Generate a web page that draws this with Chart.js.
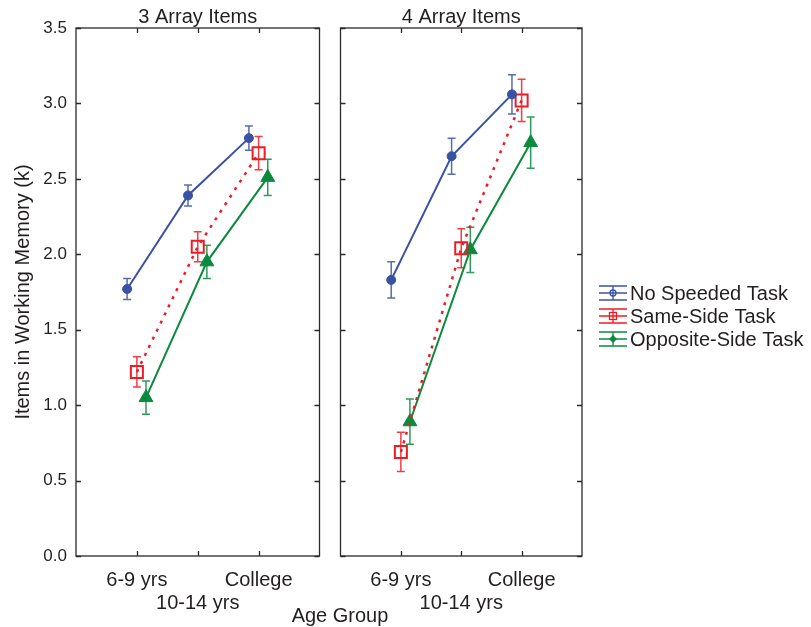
<!DOCTYPE html>
<html>
<head>
<meta charset="utf-8">
<script src="https://cdn.jsdelivr.net/npm/chart.js"></script>
<style>
  body { margin: 0; background: #fff; }
  #wrap { position: relative; width: 811px; height: 627px; font-family: 'Liberation Sans', Arial, sans-serif; }
  canvas { position: absolute; top: 0; }
  #left { left: 0; }
  #right { left: 330px; }
  #xtitle { position: absolute; left: 240px; width: 200px; top: 603px; text-align: center;
            font-size: 20px; line-height: 24px; color: #231f20; }
</style>
</head>
<body>
<div id="wrap">
  <canvas id="left" width="330" height="627"></canvas>
  <canvas id="right" width="481" height="627"></canvas>
  <div id="xtitle">Age Group</div>
</div>
<script>
const ageGroups = ['6-9 yrs', '10-14 yrs', 'College'];
const seriesNames = ['No Speeded Task', 'Same-Side Task', 'Opposite-Side Task'];
const yTicks = [0, 0.5, 1, 1.5, 2, 2.5, 3, 3.5];

// 3 array items: means and error bar half-widths
const noSpeed3 = [1.77, 2.39, 2.77];
const noSpeed3Err = [0.07, 0.07, 0.08];
const sameSide3 = [1.22, 2.05, 2.67];
const sameSide3Err = [0.10, 0.10, 0.11];
const oppSide3 = [1.05, 1.95, 2.51];
const oppSide3Err = [0.11, 0.11, 0.12];

// 4 array items
const noSpeed4 = [1.83, 2.65, 3.06];
const noSpeed4Err = [0.12, 0.12, 0.13];
const sameSide4 = [0.69, 2.04, 3.02];
const sameSide4Err = [0.13, 0.13, 0.14];
const oppSide4 = [0.89, 2.03, 2.74];
const oppSide4Err = [0.15, 0.15, 0.17];

const FONT = "'Liberation Sans', Arial, sans-serif";
const TEXT = '#231f20';
const BLUE = '#3a52a4', RED = '#ed1c24', GREEN = '#0b8a3e';
const shift = [-0.16, 0, 0.15];   // side-by-side nudge per series

function pts(vals, s) {
  return vals.map((v, i) => ({ x: i + 1 + shift[s], y: v }));
}

function makeSets(a, aErr, b, bErr, c, cErr) {
  return [
    { label: seriesNames[0], data: pts(a, 0), errors: aErr, errColor: 'rgba(58,82,164,0.85)',
      borderColor: BLUE, backgroundColor: BLUE, borderWidth: 2,
      pointStyle: 'circle', pointRadius: 4.5, pointBorderWidth: 1 },
    { label: seriesNames[1], data: pts(b, 1), errors: bErr, errColor: 'rgba(237,28,36,0.85)',
      borderColor: RED, backgroundColor: 'rgba(0,0,0,0)', borderWidth: 2.5, borderDash: [3, 6],
      pointStyle: 'rect', pointRadius: 8.5, pointBorderWidth: 2 },
    { label: seriesNames[2], data: pts(c, 2), errors: cErr, errColor: 'rgba(11,138,62,0.85)',
      borderColor: GREEN, backgroundColor: GREEN, borderWidth: 2,
      pointStyle: 'triangle', pointRadius: 8, pointBorderWidth: 1 }
  ];
}

// vertical error bars with caps, drawn under the markers
const errorBars = {
  id: 'errorBars',
  beforeDatasetsDraw(chart) {
    const { ctx, scales: { x, y } } = chart;
    chart.data.datasets.forEach(ds => {
      ctx.save();
      ctx.strokeStyle = ds.errColor;
      ctx.lineWidth = 1.5;
      ds.data.forEach((p, i) => {
        const e = ds.errors[i];
        const px = x.getPixelForValue(p.x);
        const top = y.getPixelForValue(p.y + e);
        const bot = y.getPixelForValue(p.y - e);
        ctx.beginPath();
        ctx.moveTo(px, top); ctx.lineTo(px, bot);
        ctx.moveTo(px - 4, top); ctx.lineTo(px + 4, top);
        ctx.moveTo(px - 4, bot); ctx.lineTo(px + 4, bot);
        ctx.stroke();
      });
      ctx.restore();
    });
  }
};

// box around the plot, inward ticks on all sides, panel title, y title
const frame = {
  id: 'frame',
  afterDraw(chart, args, opts) {
    const { ctx, chartArea: a, scales: { x, y } } = chart;
    ctx.save();
    ctx.strokeStyle = '#2a2a2a';
    ctx.lineWidth = 1.3;
    ctx.strokeRect(a.left, a.top, a.right - a.left, a.bottom - a.top);
    ctx.beginPath();
    [1, 2, 3].forEach(v => {
      const px = Math.round(x.getPixelForValue(v)) + 0.5;
      ctx.moveTo(px, a.top); ctx.lineTo(px, a.top + 5);
      ctx.moveTo(px, a.bottom); ctx.lineTo(px, a.bottom - 5);
    });
    yTicks.forEach(v => {
      const py = Math.round(y.getPixelForValue(v)) + 0.5;
      ctx.moveTo(a.left, py); ctx.lineTo(a.left + 5, py);
      ctx.moveTo(a.right, py); ctx.lineTo(a.right - 5, py);
    });
    ctx.stroke();

    ctx.fillStyle = TEXT;
    ctx.font = '20px ' + FONT;
    ctx.textAlign = 'center';
    ctx.textBaseline = 'middle';
    ctx.fillText(opts.title, (a.left + a.right) / 2, 17);
    if (opts.yTitle) {
      ctx.translate(23, (a.top + a.bottom) / 2);
      ctx.rotate(-Math.PI / 2);
      ctx.fillText(opts.yTitle, 0, 0);
    }
    ctx.restore();
  }
};

// legend with error-bar style keys
const sideLegend = {
  id: 'sideLegend',
  afterDraw(chart, args, opts) {
    const { ctx } = chart;
    const x0 = opts.x, y0 = opts.y, step = 23;
    ctx.save();
    chart.data.datasets.forEach((ds, i) => {
      const cy = y0 + i * step;
      const cx = x0 + 14;
      ctx.strokeStyle = ds.borderColor;
      ctx.fillStyle = ds.borderColor;
      ctx.lineWidth = 1.3;
      ctx.beginPath();
      ctx.moveTo(x0, cy - 7); ctx.lineTo(x0 + 28, cy - 7);
      ctx.moveTo(x0, cy); ctx.lineTo(x0 + 28, cy);
      ctx.moveTo(x0, cy + 7); ctx.lineTo(x0 + 28, cy + 7);
      ctx.moveTo(cx, cy - 7); ctx.lineTo(cx, cy + 7);
      ctx.stroke();
      ctx.beginPath();
      if (i === 0) {
        ctx.arc(cx, cy, 3, 0, Math.PI * 2);
        ctx.stroke();
      } else if (i === 1) {
        ctx.strokeRect(cx - 3.5, cy - 3.5, 7, 7);
      } else {
        ctx.moveTo(cx, cy - 4); ctx.lineTo(cx + 4, cy); ctx.lineTo(cx, cy + 4); ctx.lineTo(cx - 4, cy);
        ctx.closePath();
        ctx.fill();
      }
      ctx.fillStyle = TEXT;
      ctx.font = '20px ' + FONT;
      ctx.textAlign = 'left';
      ctx.textBaseline = 'middle';
      ctx.fillText(ds.label, x0 + 31, cy + 1);
    });
    ctx.restore();
  }
};

function panel(id, title, sets, isLeft) {
  return new Chart(document.getElementById(id), {
    type: 'line',
    data: { datasets: sets },
    options: {
      responsive: false,
      animation: false,
      layout: { padding: { top: 28, right: isLeft ? 9 : 229, bottom: 0, left: isLeft ? 0 : 7 } },
      elements: { line: { tension: 0, borderCapStyle: 'butt' } },
      plugins: {
        legend: { display: false },
        tooltip: { enabled: false },
        frame: { title: title, yTitle: isLeft ? 'Items in Working Memory (k)' : null },
        sideLegend: isLeft ? false : { x: 269, y: 293 }
      },
      scales: {
        x: {
          type: 'linear', min: 0, max: 4,
          afterBuildTicks: s => { s.ticks = [1, 2, 3].map(v => ({ value: v })); },
          afterFit: s => { s.height = 71; },
          grid: { display: false, drawTicks: false },
          border: { display: false },
          ticks: {
            padding: 13, color: TEXT, maxRotation: 0, autoSkip: false,
            font: { family: FONT, size: 20, lineHeight: 1.15 },
            callback: v => v === 2 ? ['', ageGroups[1]] : [ageGroups[v - 1], '']
          }
        },
        y: {
          display: isLeft,
          min: 0, max: 3.5,
          afterBuildTicks: s => { s.ticks = yTicks.map(v => ({ value: v })); },
          afterFit: s => { s.width = isLeft ? 76 : 0; },
          grid: { display: false, drawTicks: false },
          border: { display: false },
          ticks: {
            padding: 9, color: TEXT,
            font: { family: FONT, size: 17 },
            callback: v => v.toFixed(1)
          }
        }
      }
    },
    plugins: isLeft ? [errorBars, frame] : [errorBars, frame, sideLegend]
  });
}

panel('left', '3 Array Items',
  makeSets(noSpeed3, noSpeed3Err, sameSide3, sameSide3Err, oppSide3, oppSide3Err), true);
panel('right', '4 Array Items',
  makeSets(noSpeed4, noSpeed4Err, sameSide4, sameSide4Err, oppSide4, oppSide4Err), false);
</script>
</body>
</html>
